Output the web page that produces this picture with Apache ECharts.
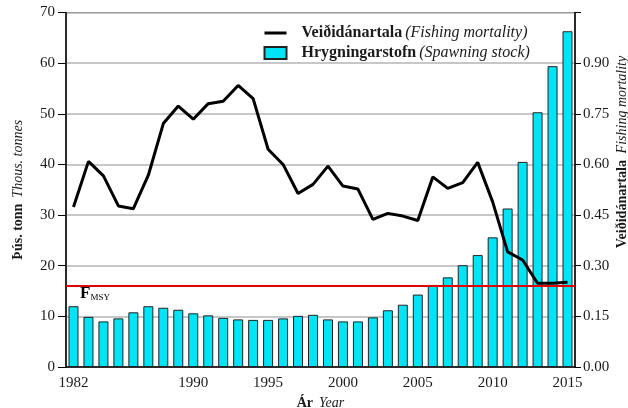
<!DOCTYPE html>
<html>
<head>
<meta charset="utf-8">
<script src="https://cdn.jsdelivr.net/npm/echarts@6/dist/echarts.min.js"></script>
<style>
  html, body { margin: 0; padding: 0; background: #fff; }
  #chart { width: 628px; height: 408px; }
</style>
</head>
<body>
<div id="chart"></div>
<script>
// years on the x axis
const years = [
  "1982", "1983", "1984", "1985", "1986", "1987", "1988", "1989", "1990", "1991",
  "1992", "1993", "1994", "1995", "1996", "1997", "1998", "1999", "2000", "2001",
  "2002", "2003", "2004", "2005", "2006", "2007", "2008", "2009", "2010", "2011",
  "2012", "2013", "2014", "2015"
];
// spawning stock, thousand tonnes
const spawningStock = [
  12.0, 9.9, 9.0, 9.6, 10.8, 12.0, 11.7, 11.3, 10.6, 10.2,
  9.7, 9.4, 9.3, 9.3, 9.6, 10.1, 10.3, 9.4, 9.0, 9.0,
  9.8, 11.2, 12.3, 14.3, 16.2, 17.7, 20.1, 22.1, 25.6, 31.3,
  40.5, 50.3, 59.4, 66.3
];
// fishing mortality
const fishingMortality = [
  0.474, 0.609, 0.566, 0.477, 0.469, 0.568, 0.721, 0.773, 0.734, 0.780,
  0.787, 0.834, 0.795, 0.645, 0.600, 0.514, 0.541, 0.595, 0.536, 0.527,
  0.437, 0.455, 0.447, 0.434, 0.563, 0.529, 0.546, 0.606, 0.489, 0.341,
  0.317, 0.248, 0.248, 0.251
];
const fmsy = 0.245;
const labelYears = ["1982", "1990", "1995", "2000", "2005", "2010", "2015"];
const majorTickYears = ["1982", "1985", "1990", "1995", "2000", "2005", "2010", "2015"];
const englishNames = {
  "Veiðidánartala": "Fishing mortality",
  "Hrygningarstofn": "Spawning stock"
};

const serif = "'Liberation Serif', 'DejaVu Serif', serif";
const txt = "#1a1a1a";

const chart = echarts.init(document.getElementById("chart"));

chart.setOption({
  animation: false,
  textStyle: { fontFamily: serif },
  grid: {
    left: 66, right: 53, top: 12.5, bottom: 41,
    outerBoundsMode: "none",
    containLabel: false,
    show: true, borderColor: "#555", borderWidth: 1
  },
  legend: {
    orient: "vertical",
    left: 258, top: 20,
    itemWidth: 22, itemHeight: 12, itemGap: 4,
    data: [
      { name: "Veiðidánartala", itemStyle: { opacity: 0 }, lineStyle: { width: 3 } },
      { name: "Hrygningarstofn", icon: "rect" }
    ],
    formatter: name => `{b|${name}} {i|(${englishNames[name]})}`,
    textStyle: {
      lineHeight: 16,
      padding: [0, 0, 0, 10],
      rich: {
        b: { fontFamily: serif, fontWeight: "bold", fontSize: 16, color: txt },
        i: { fontFamily: serif, fontStyle: "italic", fontSize: 16, color: txt }
      }
    }
  },
  xAxis: [
    {
      type: "category",
      data: years,
      boundaryGap: true,
      axisLine: { lineStyle: { color: "#000", width: 1.5 } },
      axisTick: { alignWithLabel: true, interval: 0, length: 5, lineStyle: { color: "#000" } },
      axisLabel: {
        interval: (i, v) => labelYears.includes(v),
        margin: 9, fontSize: 15, color: txt, fontFamily: serif
      },
      name: "{b|Ár}  {i|Year}",
      nameLocation: "middle",
      nameGap: 24,
      nameTextStyle: {
        rich: {
          b: { fontFamily: serif, fontWeight: "bold", fontSize: 14, color: txt },
          i: { fontFamily: serif, fontStyle: "italic", fontSize: 14, color: txt }
        }
      }
    },
    {
      type: "category",
      data: years,
      position: "bottom",
      boundaryGap: true,
      axisLine: { show: false },
      axisTick: {
        alignWithLabel: true,
        interval: (i, v) => majorTickYears.includes(v),
        length: 8, lineStyle: { color: "#000" }
      },
      axisLabel: { show: false },
      splitLine: { show: false }
    }
  ],
  yAxis: [
    {
      type: "value",
      min: 0, max: 70, interval: 10,
      axisLine: { show: true, lineStyle: { color: "#000", width: 1.5 } },
      axisTick: { show: true, length: 8, lineStyle: { color: "#000" } },
      axisLabel: { margin: 11, fontSize: 15, color: txt, fontFamily: serif },
      splitLine: { lineStyle: { color: "#b4b4b4", width: 1.5 } },
      name: "{b|Þús. tonn}  {i|Thous. tonnes}",
      nameLocation: "middle",
      nameRotate: 90,
      nameGap: 41,
      nameTextStyle: {
        rich: {
          b: { fontFamily: serif, fontWeight: "bold", fontSize: 14, color: txt },
          i: { fontFamily: serif, fontStyle: "italic", fontSize: 14, color: txt }
        }
      }
    },
    {
      type: "value",
      position: "right",
      min: 0, max: 1.05, interval: 0.15,
      axisLine: { show: true, lineStyle: { color: "#000", width: 1.5 } },
      axisTick: { show: true, length: 6, lineStyle: { color: "#000" } },
      axisLabel: {
        margin: 8, fontSize: 15, color: txt, fontFamily: serif,
        formatter: v => (v > 1 ? "" : v.toFixed(2))
      },
      splitLine: { show: false }
    }
  ],
  graphic: [
    {
      type: "text",
      x: 622, y: 152,
      rotation: Math.PI / 2,
      style: {
        text: "{b|Veiðidánartala}  {i|Fishing mortality}",
        align: "center", verticalAlign: "middle",
        rich: {
          b: { fontFamily: serif, fontWeight: "bold", fontSize: 14, fill: txt },
          i: { fontFamily: serif, fontStyle: "italic", fontSize: 14, fill: txt }
        }
      }
    },
    {
      type: "text",
      x: 80, y: 288,
      style: {
        text: "{f|F}{s|MSY}",
        rich: {
          f: { fontFamily: serif, fontWeight: "bold", fontSize: 17, fill: "#000", verticalAlign: "bottom", lineHeight: 14 },
          s: { fontFamily: serif, fontSize: 9, fill: "#000", verticalAlign: "bottom", lineHeight: 14 }
        }
      }
    }
  ],
  series: [
    {
      name: "Hrygningarstofn",
      type: "bar",
      xAxisIndex: 0,
      yAxisIndex: 0,
      data: spawningStock,
      barWidth: 10,
      itemStyle: { color: "#00e4f8", borderColor: "#222", borderWidth: 1 }
    },
    {
      name: "Veiðidánartala",
      type: "line",
      xAxisIndex: 0,
      yAxisIndex: 1,
      data: fishingMortality,
      symbol: "none",
      lineStyle: { color: "#000", width: 3 },
      itemStyle: { color: "#000" },
      z: 5,
      markLine: {
        silent: true,
        symbol: "none",
        label: { show: false },
        lineStyle: { color: "#e00000", width: 2, type: "solid" },
        data: [{ yAxis: fmsy }]
      }
    }
  ]
});
</script>
</body>
</html>
